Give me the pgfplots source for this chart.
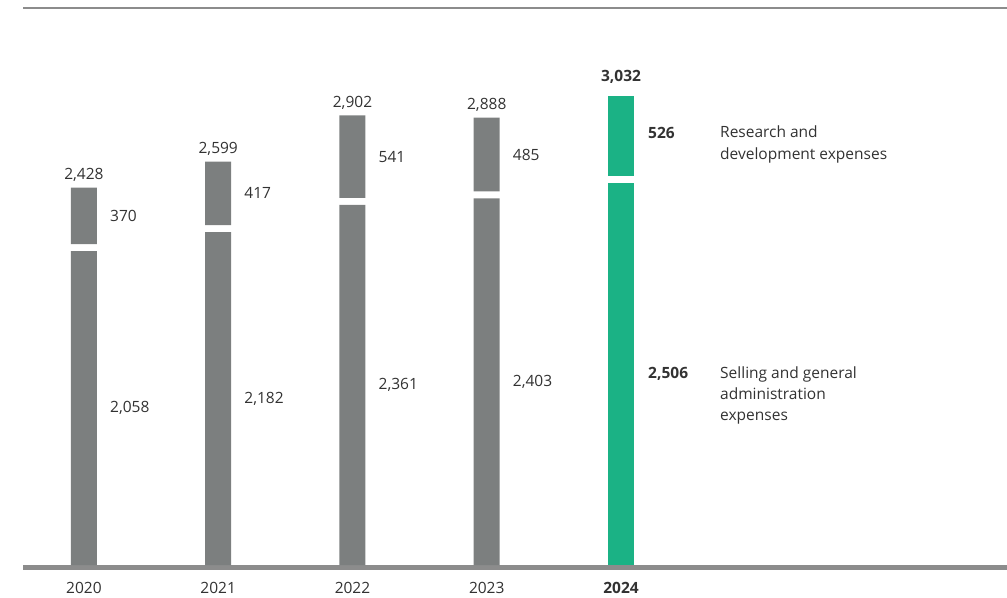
\documentclass[border=0pt]{standalone}
\usepackage{pgfplots}
\pgfplotsset{compat=1.18}
\usepackage{fontspec}
\setmainfont{Open Sans}
\newcommand{\yr}[1]{\mbox{\fontsize{15.5bp}{18bp}\selectfont #1}}
\definecolor{bargray}{RGB}{124,127,127}
\definecolor{bargreen}{RGB}{27,178,133}
\definecolor{linegray}{RGB}{140,140,140}
\definecolor{txt}{RGB}{50,50,50}
\tikzset{
  lbl/.style={font=\fontsize{15.5bp}{18bp}\selectfont, text=txt, inner sep=0pt},
  blbl/.style={font=\fontsize{15.5bp}{18bp}\selectfont\bfseries, text=txt, inner sep=0pt},
}
\begin{document}
\begin{tikzpicture}
\useasboundingbox (0,0) rectangle (1007bp,598bp);
\begin{axis}[
  at={(23bp,33bp)}, anchor=south west,
  scale only axis, width=984bp, height=557bp,
  xmin=-0.454, xmax=6.875, ymin=0, ymax=3652,
  ybar stacked, bar width=26bp,
  axis line style={draw=none}, tick style={draw=none},
  ytick=\empty,
  xtick={0,1,2,3,4},
  xticklabels={\yr{2020},\yr{2021},\yr{2022},\yr{2023},\yr{\bfseries 2024}},
  xticklabel style={anchor=base, yshift=-28bp, text=txt},
  clip=false,
]
% lower segments: selling and general administration expenses
\addplot[fill=bargray, draw=none] coordinates {(0,2058) (1,2182) (2,2361) (3,2403) (4,0)};
\addplot[fill=bargreen, draw=none] coordinates {(0,0) (1,0) (2,0) (3,0) (4,2506)};
% spacer between the two segments
\addplot[fill=none, draw=none] coordinates {(0,46) (1,46) (2,46) (3,46) (4,46)};
% upper segments: research and development expenses
\addplot[fill=bargray, draw=none] coordinates {(0,370) (1,417) (2,541) (3,485) (4,0)};
\addplot[fill=bargreen, draw=none] coordinates {(0,0) (1,0) (2,0) (3,0) (4,526)};

% baseline and top rule
\draw[linegray, line width=5bp] ([yshift=-2.5bp]rel axis cs:0,0) -- ([yshift=-2.5bp]rel axis cs:1,0);
\draw[linegray, line width=1.8bp] (rel axis cs:0,1) -- (rel axis cs:1,1);

% totals
\node[lbl, anchor=base, yshift=8bp] at (axis cs:0,2474) {2,428};
\node[lbl, anchor=base, yshift=8bp] at (axis cs:1,2645) {2,599};
\node[lbl, anchor=base, yshift=8bp] at (axis cs:2,2948) {2,902};
\node[lbl, anchor=base, yshift=8bp] at (axis cs:3,2934) {2,888};
\node[blbl, anchor=base, yshift=14bp] at (axis cs:4,3078) {3,032};

% upper segment values
\node[lbl, anchor=west, xshift=26bp] at (axis cs:0,2289) {370};
\node[lbl, anchor=west, xshift=26bp] at (axis cs:1,2436.5) {417};
\node[lbl, anchor=west, xshift=26bp] at (axis cs:2,2677.5) {541};
\node[lbl, anchor=west, xshift=26bp] at (axis cs:3,2691.5) {485};
\node[blbl, anchor=west, xshift=27bp, yshift=3bp] at (axis cs:4,2815) {526};

% lower segment values
\node[lbl, anchor=west, xshift=26bp] at (axis cs:0,1029) {2,058};
\node[lbl, anchor=west, xshift=26bp] at (axis cs:1,1091) {2,182};
\node[lbl, anchor=west, xshift=26bp] at (axis cs:2,1180.5) {2,361};
\node[lbl, anchor=west, xshift=26bp] at (axis cs:3,1201.5) {2,403};
\node[blbl, anchor=west, xshift=27bp] at (axis cs:4,1253) {2,506};

% series descriptions
\node[lbl, anchor=base west, xshift=99bp, yshift=-2bp] at (axis cs:4,2815) {Research and};
\node[lbl, anchor=base west, xshift=99bp, yshift=-24bp] at (axis cs:4,2815) {development expenses};
\node[lbl, anchor=base west, xshift=99bp, yshift=-5bp] at (axis cs:4,1253) {Selling and general};
\node[lbl, anchor=base west, xshift=99bp, yshift=-26bp] at (axis cs:4,1253) {administration};
\node[lbl, anchor=base west, xshift=99bp, yshift=-47bp] at (axis cs:4,1253) {expenses};
\end{axis}
\end{tikzpicture}
\end{document}
